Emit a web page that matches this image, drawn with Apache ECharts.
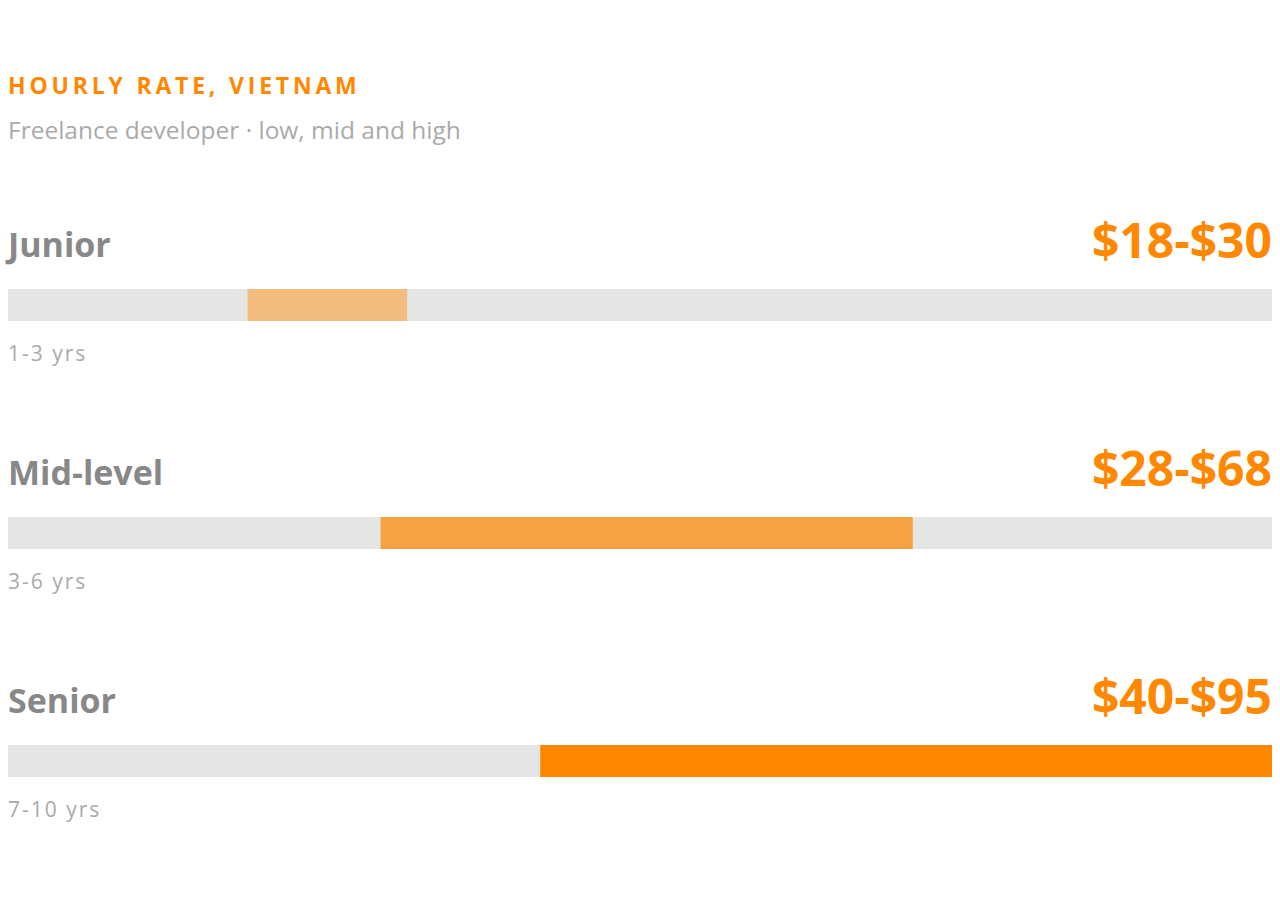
<!DOCTYPE html>
<html>
<head>
<meta charset="utf-8">
<script src="https://cdn.jsdelivr.net/npm/echarts@6/dist/echarts.min.js"></script>
<style>
html,body{margin:0;padding:0;background:#fff;}
#chart{width:1280px;height:920px;}
</style>
</head>
<body>
<div id="chart"></div>
<script>
const titleText = 'HOURLY RATE, VIETNAM';
const subtitleText = 'Freelance developer · low, mid and high';
const categories = ['Junior', 'Mid-level', 'Senior'];
const experience = ['1-3 yrs', '3-6 yrs', '7-10 yrs'];
const lowRates = [18, 28, 40];
const highRates = [30, 68, 95];
const axisMax = 95;
const barColors = ['#F2BC7E', '#F6A242', '#FF8800'];

const FONT = '"Open Sans", "Noto Sans", sans-serif';

const chart = echarts.init(document.getElementById('chart'), null, {renderer: 'svg'});

const option = {
  animation: false,
  backgroundColor: '#ffffff',
  title: [{
    text: titleText,
    left: 8,
    top: 73,
    padding: 0,
    textStyle: {color: '#FF8800', fontSize: 23, fontWeight: 'bold', fontFamily: FONT}
  }, {
    text: subtitleText,
    left: 8,
    top: 117,
    padding: 0,
    textStyle: {color: '#AAAAAA', fontSize: 24.5, fontWeight: 'normal', fontFamily: FONT}
  }],
  grid: {left: 8, right: 8, top: 191, bottom: 45, containLabel: false},
  xAxis: {type: 'value', min: 0, max: axisMax, show: false},
  yAxis: {type: 'category', data: categories, inverse: true, show: false},
  series: [{
    name: 'base',
    type: 'bar',
    stack: 'range',
    barWidth: 32,
    data: lowRates,
    itemStyle: {color: 'transparent'},
    showBackground: true,
    backgroundStyle: {color: '#E5E5E5'},
    silent: true
  }, {
    name: 'range',
    type: 'bar',
    stack: 'range',
    barWidth: 32,
    data: highRates.map((h, i) => ({value: h - lowRates[i], itemStyle: {color: barColors[i]}})),
    silent: true
  }, {
    name: 'labels',
    type: 'custom',
    silent: true,
    z: 10,
    data: categories.map((c, i) => [0, i]),
    encode: {x: 0, y: 1},
    renderItem: function (params, api) {
      const i = api.value(1);
      const p = api.coord([0, i]);
      const cs = params.coordSys;
      return {
        type: 'group',
        children: [{
          type: 'text',
          style: {
            text: categories[i], x: p[0], y: p[1] - 61,
            fill: '#888888', font: 'bold 34px ' + FONT,
            align: 'left', verticalAlign: 'middle'
          }
        }, {
          type: 'text',
          style: {
            text: '$' + lowRates[i] + '-$' + highRates[i], x: cs.x + cs.width, y: p[1] - 66,
            fill: '#FF8800', font: 'bold 48px ' + FONT,
            align: 'right', verticalAlign: 'middle'
          }
        }, {
          type: 'text',
          style: {
            text: experience[i], x: p[0], y: p[1] + 48,
            fill: '#AAAAAA', font: 'normal 21px ' + FONT,
            align: 'left', verticalAlign: 'middle'
          }
        }]
      };
    }
  }]
};

chart.setOption(option);

function applySpacing() {
  const texts = document.querySelectorAll('#chart svg text');
  texts.forEach(t => {
    const s = t.textContent;
    if (s === titleText) t.style.letterSpacing = '3.8px';
    if (experience.indexOf(s) >= 0) t.style.letterSpacing = '2px';
  });
}
applySpacing();
chart.on('finished', applySpacing);
</script>
</body>
</html>
